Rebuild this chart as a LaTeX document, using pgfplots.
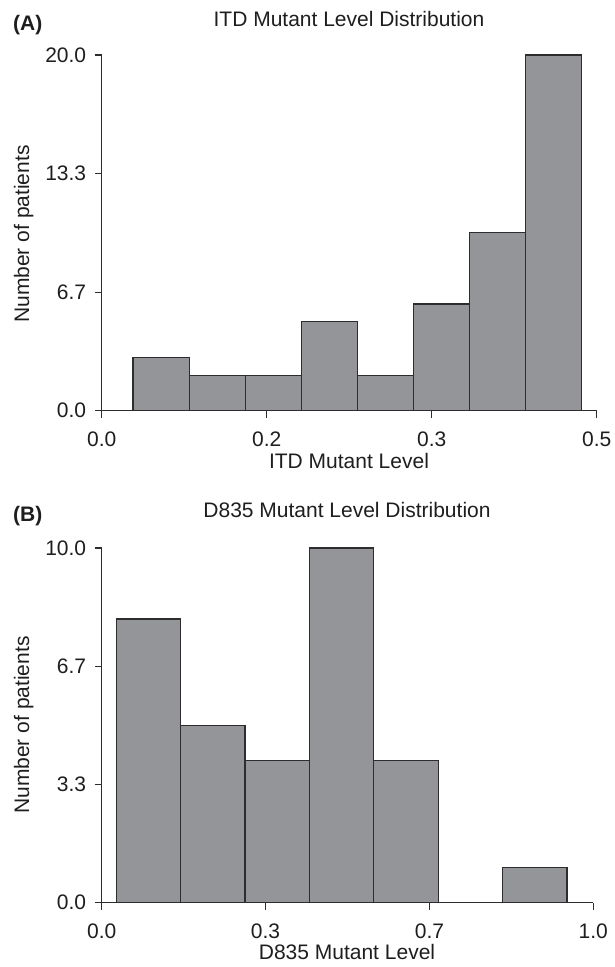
\documentclass[border=0pt]{standalone}
\usepackage{pgfplots}
\pgfplotsset{compat=1.18}
\usepackage{fontspec}
\setmainfont{Liberation Sans}
\definecolor{barfill}{RGB}{147,149,153}
\definecolor{axcol}{RGB}{45,45,45}
\definecolor{txt}{RGB}{30,30,30}
\newcommand{\ff}{\fontsize{21}{25}\selectfont}
\begin{document}
\begin{tikzpicture}
\path[use as bounding box] (0pt,0pt) rectangle (615pt,967pt);
\coordinate (pa) at (101.7pt,556.3pt);
\coordinate (pb) at (101.7pt,64.3pt);
\pgfplotsset{
  hist/.style={
    scale only axis,
    axis lines=left,
    axis line style={axcol, line width=1.2pt, -},
    tick align=outside,
    major tick length=7pt,
    minor tick length=6pt,
    every tick/.style={axcol, line width=1.2pt},
    minor tick num=4,
    tick label style={font=\ff, text=txt},
    /pgf/number format/assume math mode=true,
    xticklabel style={anchor=base, yshift=-28.5pt},
    yticklabel style={anchor=east, xshift=-5pt},
    clip=false,
  }
}
% ---------- Panel A ----------
\begin{axis}[hist,
  at={(pa)}, anchor=south west,
  width=495pt, height=355.7pt,
  xmin=0, xmax=0.5, ymin=0, ymax=20,
  xtick={0,0.16667,0.33333,0.5},
  xticklabels={0.0,0.2,0.3,0.5},
  ytick={0,6.66667,13.33333,20},
  yticklabels={0.0,6.7,13.3,20.0},
]
\addplot[ybar interval, fill=barfill, draw=axcol, line width=1.2pt] coordinates {
  (0.0317,3) (0.0883,2) (0.1449,2) (0.2015,5) (0.2581,2)
  (0.3147,6) (0.3713,10) (0.4279,20) (0.4845,20)
};
\end{axis}
% ---------- Panel B ----------
\begin{axis}[hist,
  at={(pb)}, anchor=south west,
  width=491.6pt, height=354.7pt,
  xmin=0, xmax=1, ymin=0, ymax=10,
  xtick={0,0.33333,0.66667,1},
  xticklabels={0.0,0.3,0.7,1.0},
  ytick={0,3.33333,6.66667,10},
  yticklabels={0.0,3.3,6.7,10.0},
]
\addplot[ybar interval, fill=barfill, draw=axcol, line width=1.2pt] coordinates {
  (0.0296,8) (0.1606,5) (0.2916,4) (0.4226,10) (0.5536,4) (0.6846,4)
};
\addplot[ybar interval, fill=barfill, draw=axcol, line width=1.2pt] coordinates {
  (0.8156,1) (0.9466,1)
};
\end{axis}
% ---------- Texts ----------
\node[anchor=base west, font=\ff\bfseries, text=txt, inner sep=0] at (13pt,936pt) {(A)};
\node[anchor=base, font=\ff, text=txt, inner sep=0] at (349pt,940pt) {ITD Mutant Level Distribution};
\node[anchor=base, font=\ff, text=txt, inner sep=0] at (349pt,498pt) {ITD Mutant Level};
\node[anchor=base, rotate=90, font=\ff, text=txt, inner sep=0] at (29pt,733pt) {Number of patients};
\node[anchor=base west, font=\ff\bfseries, text=txt, inner sep=0] at (13pt,445.5pt) {(B)};
\node[anchor=base, font=\ff, text=txt, inner sep=0] at (347pt,449.5pt) {D835 Mutant Level Distribution};
\node[anchor=base, font=\ff, text=txt, inner sep=0] at (347pt,7pt) {D835 Mutant Level};
\node[anchor=base, rotate=90, font=\ff, text=txt, inner sep=0] at (29pt,242pt) {Number of patients};
\end{tikzpicture}
\end{document}
